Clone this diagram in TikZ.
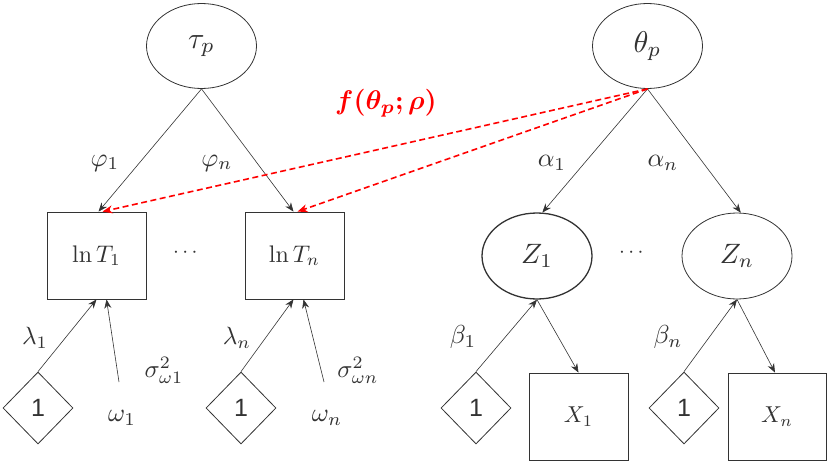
\documentclass[tikz,border=0pt]{standalone}
\usepackage{amsmath,bm,graphicx}
\usepackage{fontspec}
\newfontfamily\onefont{Liberation Sans}
\usetikzlibrary{shapes.geometric,arrows.meta,calc}
\definecolor{ink}{HTML}{333333}
\newcommand{\sclm}[2]{\scalebox{#1}{$#2$}}
\begin{document}
\begin{tikzpicture}[x=1pt,y=-1pt,
  lat/.style={ellipse,draw=ink,line width=0.8pt,minimum width=110pt,minimum height=85pt,inner sep=0pt,text=ink},
  obs/.style={rectangle,draw=ink,line width=0.8pt,minimum width=99pt,minimum height=87pt,inner sep=0pt,text=ink},
  one/.style={diamond,draw=ink,line width=0.8pt,minimum width=70pt,minimum height=72pt,inner sep=0pt,text=ink,font=\onefont\fontsize{25}{30}\selectfont},
  lab/.style={inner sep=0pt,text=ink},
  arr/.style={draw=ink,line width=0.6pt,-{Stealth[length=9pt,width=7pt]}},
  red/.style={draw=red,line width=1.6pt,dash pattern=on 6pt off 3.5pt,-{Stealth[length=10pt,width=8pt]}}]
\useasboundingbox (0,0) rectangle (829,463);
% latent top nodes
\node[lat] (tau) at (201.5,46) {\sclm{3.0}{\tau_p}};
\node[lat] (theta) at (647.5,46) {\sclm{3.0}{\theta_p}};
% lnT boxes
\node[obs] (T1) at (96.5,255.5) {\sclm{2.4}{\ln T_1}};
\node[obs] (Tn) at (294.5,255.5) {\sclm{2.4}{\ln T_n}};
\node[lab] (dotsL) at (187,253) {\sclm{2.1}{\cdots}};
% Z ellipses
\node[lat,line width=1.3pt,minimum width=110pt,minimum height=86pt] (Z1) at (537,256) {\sclm{2.8}{Z_1}};
\node[lat,minimum width=110pt,minimum height=86pt] (Zn) at (737,256) {\sclm{2.8}{Z_n}};
\node[lab] (dotsR) at (633,253) {\sclm{2.1}{\cdots}};
% X boxes
\node[obs] (X1) at (578.5,416.5) {\sclm{2.3}{X_1}};
\node[obs,minimum width=98pt] (Xn) at (777,416.5) {\sclm{2.3}{X_n}};
% diamonds
\node[one] (D1) at (38,408) {1};
\node[one] (D2) at (241,408) {1};
\node[one] (D3) at (476,408) {1};
\node[one] (D4) at (684,408) {1};
% error labels
\node[lab] (w1) at (122,418) {\sclm{2.6}{\omega_1}};
\node[lab] (wn) at (327,418) {\sclm{2.6}{\omega_n}};
\coordinate (w1top) at (119,382);
\coordinate (wntop) at (324,382);
% edge labels
\node[lab] (phi1) at (105,163) {\sclm{2.6}{\varphi_1}};
\node[lab] (phin) at (217,163) {\sclm{2.6}{\varphi_n}};
\node[lab] (al1) at (552,163) {\sclm{2.6}{\alpha_1}};
\node[lab] (aln) at (663,163) {\sclm{2.6}{\alpha_n}};
\node[lab] (lam1) at (35,338) {\sclm{2.5}{\lambda_1}};
\node[lab] (lamn) at (237,338) {\sclm{2.5}{\lambda_n}};
\node[lab] (s1) at (164,370) {\sclm{2.5}{\sigma^2_{\omega 1}}};
\node[lab] (sn) at (358,370) {\sclm{2.5}{\sigma^2_{\omega n}}};
\node[lab] (b1) at (463,337) {\sclm{2.6}{\beta_1}};
\node[lab] (bn) at (668,337) {\sclm{2.6}{\beta_n}};
\node[inner sep=0pt,text=red] (f) at (386,103) {\sclm{2.7}{\bm{f(\theta_p;\rho)}}};
% black arrows
\draw[arr] (tau.south) -- ($(T1.north)+(2,0)$);
\draw[arr] (tau.south) -- ($(Tn.north)+(-1,0)$);
\draw[arr] (theta.south) -- (Z1.83);
\draw[arr] (theta.south) -- (Zn.85);
\draw[arr] (D1.north) -- (T1.south);
\draw[arr] (w1top) -- ($(T1.south)+(10,0)$);
\draw[arr] (D2.north) -- ($(Tn.south)+(-1,0)$);
\draw[arr] (wntop) -- ($(Tn.south)+(9,0)$);
\draw[arr] (D3.north) -- (Z1.south);
\draw[arr] (Z1.south) -- (X1.north);
\draw[arr] (D4.north) -- (Zn.south);
\draw[arr] (Zn.south) -- ($(Xn.north)+(-2,0)$);
% red dashed
\draw[red] (theta.south) -- ($(T1.north)+(6,0)$);
\draw[red] (theta.south) -- ($(Tn.north)+(3,0)$);
\end{tikzpicture}
\end{document}
